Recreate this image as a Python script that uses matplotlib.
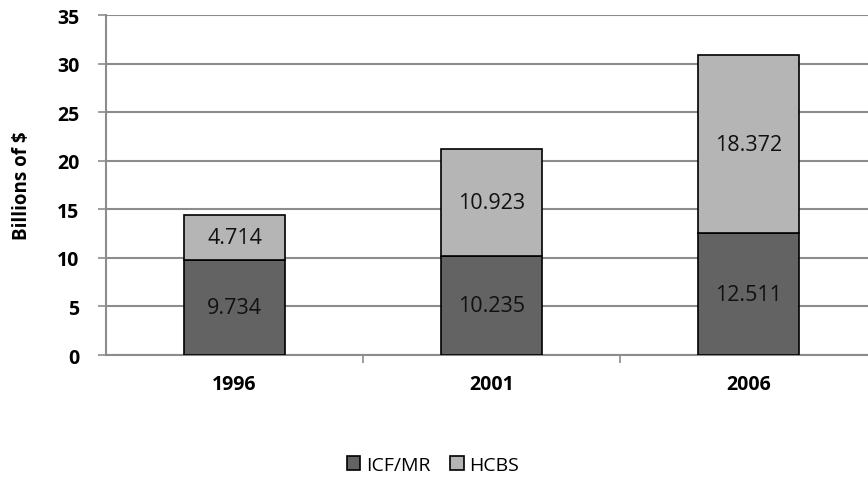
import matplotlib.pyplot as plt
import numpy as np

years = ['1996', '2001', '2006']
icf_mr = [9.734, 10.235, 12.511]
hcbs = [4.714, 10.923, 18.372]

plt.rcParams['font.family'] = ['Open Sans', 'DejaVu Sans']

fig = plt.figure(figsize=(8.68, 4.85), dpi=100)
ax = fig.add_axes([106 / 868, 129 / 485, 771 / 868, 340 / 485])

x = np.arange(len(years))
w = 0.395
b1 = ax.bar(x, icf_mr, w, color='#636363', edgecolor='black', linewidth=1.2,
            label='ICF/MR', zorder=3)
b2 = ax.bar(x, hcbs, w, bottom=icf_mr, color='#b5b5b5', edgecolor='black',
            linewidth=1.2, label='HCBS', zorder=3)

for i in range(len(years)):
    ax.text(x[i], icf_mr[i] / 2, f'{icf_mr[i]:.3f}', ha='center', va='center',
            fontsize=15.5, color='#111111', zorder=4)
    ax.text(x[i], icf_mr[i] + hcbs[i] / 2, f'{hcbs[i]:.3f}', ha='center',
            va='center', fontsize=15.5, color='#111111', zorder=4)

ax.set_xlim(-0.5, 2.5)
ax.set_ylim(0, 35)
ax.set_yticks(range(0, 36, 5))
ax.yaxis.grid(True, color='#8c8c8c', linewidth=1.5, zorder=0)
ax.set_axisbelow(True)

ax.set_xticks(x)
ax.set_xticklabels(years, fontsize=14, fontweight='bold')
ax.set_xticks([0.5, 1.5, 2.5], minor=True)
ax.tick_params(axis='x', which='major', length=0, pad=14)
ax.tick_params(axis='x', which='minor', length=6, color='#8c8c8c', width=1.2)
ax.tick_params(axis='y', length=6, color='#8c8c8c', width=1.2, labelsize=14,
               pad=13)
for lab in ax.get_yticklabels():
    lab.set_fontweight('bold')

for s in ['top', 'right']:
    ax.spines[s].set_visible(False)
ax.spines['left'].set_color('#8c8c8c')
ax.spines['left'].set_linewidth(1.5)
ax.spines['bottom'].set_color('#8c8c8c')
ax.spines['bottom'].set_linewidth(1.5)

ax.set_ylabel('Billions of $', fontsize=13.5, fontweight='bold', labelpad=18)

fig.legend(handles=[b1, b2], labels=['ICF/MR', 'HCBS'], loc='center',
           bbox_to_anchor=(433 / 868, 1 - 466 / 485), ncol=2, frameon=False,
           fontsize=14, handlelength=0.7, handleheight=0.7, handletextpad=0.3,
           columnspacing=1.0)

fig.savefig('out.png', dpi=100)
